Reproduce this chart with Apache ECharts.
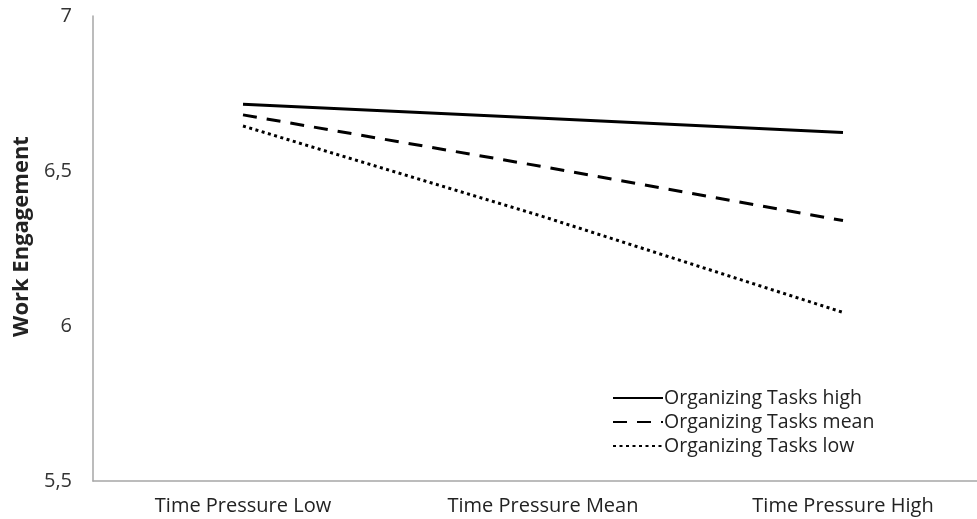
<!DOCTYPE html>
<html>
<head>
<meta charset="utf-8">
<script src="https://cdn.jsdelivr.net/npm/echarts@6/dist/echarts.min.js"></script>
<style>html,body{margin:0;padding:0;background:#fff;overflow:hidden;width:977px;height:519px}#c{width:1000px;height:519px}</style>
</head>
<body>
<div id="c"></div>
<script>
var categories = ['Time Pressure Low', 'Time Pressure Mean', 'Time Pressure High'];
var seriesNames = ['Organizing Tasks high', 'Organizing Tasks mean', 'Organizing Tasks low'];
var highValues = [6.715, 6.67, 6.624];
var meanValues = [6.681, 6.514, 6.34];
var lowValues = [6.645, 6.353, 6.044];
var yTicks = [5.5, 6, 6.5, 7];

var chart = echarts.init(document.getElementById('c'));
var font = 'Open Sans';
function mk(name, data, type) {
  return {
    name: name, type: 'line', data: data, symbol: 'none', silent: true,
    lineStyle: { color: '#000', width: 3, type: type, cap: 'butt' },
    itemStyle: { color: '#000' }
  };
}
chart.setOption({
  animation: false,
  backgroundColor: '#fff',
  grid: { left: 93, top: 16, width: 900, height: 465, containLabel: false },
  legend: {
    orient: 'vertical', left: 607, top: 381, itemWidth: 50, itemHeight: 14, itemGap: 0,
    itemStyle: { opacity: 0 },
    textStyle: { fontFamily: font, fontSize: 19.5, color: '#222', padding: [0, 0, 0, -4], lineHeight: 24 },
    data: seriesNames
  },
  xAxis: {
    type: 'category', data: categories, boundaryGap: true,
    axisLine: { lineStyle: { color: '#a6a6a6', width: 1.5 } },
    axisTick: { show: false },
    axisLabel: { fontFamily: font, fontSize: 20, color: '#222', margin: 15 }
  },
  yAxis: {
    type: 'value', min: yTicks[0], max: yTicks[yTicks.length - 1], interval: 0.5,
    name: 'Work Engagement', nameLocation: 'middle', nameGap: 60, nameRotate: 90,
    nameTextStyle: { fontFamily: font, fontSize: 22, fontWeight: 'bold', color: '#222', padding: [0, 0, 0, 24] },
    axisLine: { show: true, lineStyle: { color: '#a6a6a6', width: 1.5 } },
    axisTick: { show: false },
    splitLine: { show: false },
    axisLabel: { fontFamily: font, fontSize: 20, color: '#333', margin: 21,
      formatter: function (v) { return String(v).replace('.', ','); } }
  },
  series: [
    mk(seriesNames[0], highValues, 'solid'),
    mk(seriesNames[1], meanValues, [14, 10]),
    mk(seriesNames[2], lowValues, [3, 3.5])
  ]
});
</script>
</body>
</html>
